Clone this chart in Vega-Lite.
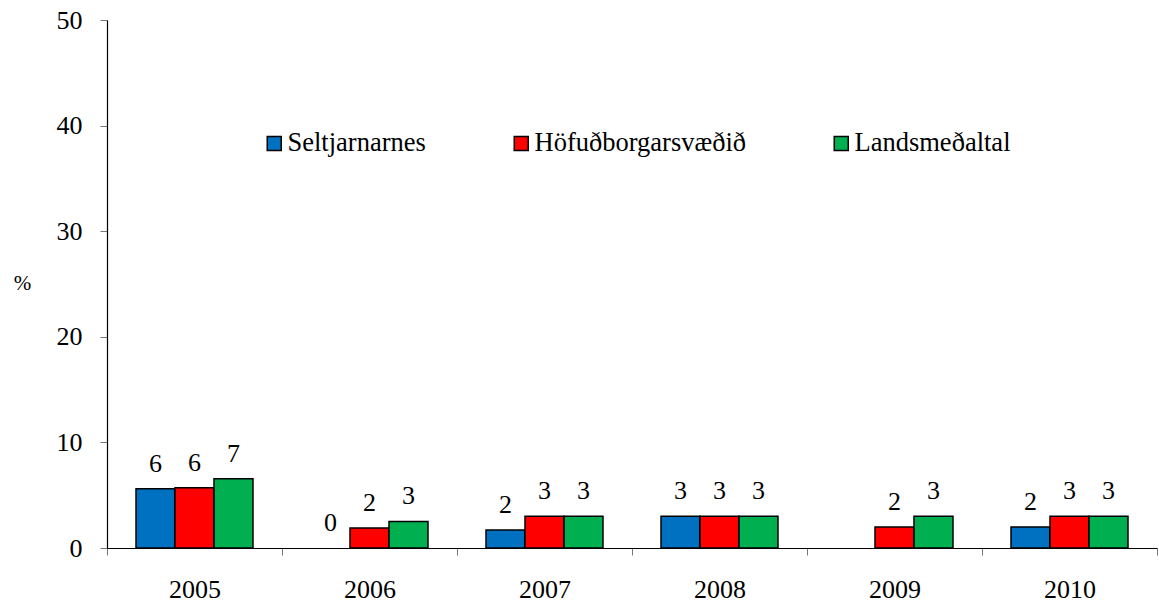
{
  "$schema": "https://vega.github.io/schema/vega-lite/v6.json",
  "width": 1050,
  "height": 528,
  "autosize": "none",
  "padding": {"left": 107, "top": 20, "right": 2, "bottom": 54},
  "background": "white",
  "config": {
    "font": "Liberation Serif",
    "view": {"stroke": null}
  },
  "data": {
    "values": [
      {"year": "2005", "region": "Seltjarnarnes", "value": 5.6},
      {"year": "2005", "region": "Höfuðborgarsvæðið", "value": 5.7},
      {"year": "2005", "region": "Landsmeðaltal", "value": 6.55},
      {"year": "2006", "region": "Seltjarnarnes", "value": 0},
      {"year": "2006", "region": "Höfuðborgarsvæðið", "value": 1.9},
      {"year": "2006", "region": "Landsmeðaltal", "value": 2.52},
      {"year": "2007", "region": "Seltjarnarnes", "value": 1.7},
      {"year": "2007", "region": "Höfuðborgarsvæðið", "value": 3.0},
      {"year": "2007", "region": "Landsmeðaltal", "value": 3.0},
      {"year": "2008", "region": "Seltjarnarnes", "value": 3.0},
      {"year": "2008", "region": "Höfuðborgarsvæðið", "value": 3.0},
      {"year": "2008", "region": "Landsmeðaltal", "value": 3.0},
      {"year": "2009", "region": "Höfuðborgarsvæðið", "value": 2.0},
      {"year": "2009", "region": "Landsmeðaltal", "value": 3.0},
      {"year": "2010", "region": "Seltjarnarnes", "value": 2.0},
      {"year": "2010", "region": "Höfuðborgarsvæðið", "value": 3.0},
      {"year": "2010", "region": "Landsmeðaltal", "value": 3.0}
    ]
  },
  "encoding": {
    "x": {
      "field": "year",
      "type": "nominal",
      "scale": {"paddingInner": 0, "paddingOuter": 0},
      "axis": {
        "title": null,
        "labelFont": "Liberation Serif",
        "labelAngle": 0,
        "labelFontSize": 26,
        "labelColor": "black",
        "labelPadding": 21,
        "tickBand": "extent",
        "tickSize": 7,
        "tickColor": "#777777",
        "domainColor": "black",
        "domainWidth": 1.2,
        "grid": false
      }
    },
    "xOffset": {
      "field": "region",
      "type": "nominal",
      "sort": ["Seltjarnarnes", "Höfuðborgarsvæðið", "Landsmeðaltal"],
      "scale": {"paddingInner": 0, "paddingOuter": 0.744}
    },
    "y": {
      "field": "value",
      "type": "quantitative",
      "scale": {"domain": [0, 50], "nice": false},
      "axis": {
        "values": [0, 10, 20, 30, 40, 50],
        "title": "%",
        "titleFont": "Liberation Serif",
        "labelFont": "Liberation Serif",
        "titleAngle": 0,
        "titleFontSize": 21,
        "titleFontWeight": "normal",
        "titleColor": "black",
        "titleX": -85,
        "titleY": 263,
        "titleAlign": "center",
        "titleBaseline": "middle",
        "labelFontSize": 26,
        "labelColor": "black",
        "labelPadding": 18,
        "tickSize": 7,
        "tickColor": "#777777",
        "domainColor": "black",
        "domainWidth": 1.2,
        "grid": false
      }
    }
  },
  "layer": [
    {
      "transform": [{"filter": "datum.value > 0"}],
      "mark": {"type": "bar", "stroke": "black", "strokeWidth": 1.5},
      "encoding": {
        "color": {
          "field": "region",
          "type": "nominal",
          "sort": ["Seltjarnarnes", "Höfuðborgarsvæðið", "Landsmeðaltal"],
          "scale": {
            "domain": ["Seltjarnarnes", "Höfuðborgarsvæðið", "Landsmeðaltal"],
            "range": ["#0070C0", "#FF0000", "#00B050"]
          },
          "legend": {
            "title": null,
            "orient": "none",
            "direction": "horizontal",
            "legendX": 154,
            "legendY": 110,
            "padding": 0,
            "columnPadding": 82,
            "symbolType": "square",
            "symbolSize": 196,
            "symbolStrokeColor": "black",
            "symbolStrokeWidth": 1.5,
            "labelFont": "Liberation Serif",
            "labelFontSize": 26.5,
            "labelColor": "black",
            "labelOffset": 0,
            "labelLimit": 400
          }
        }
      }
    },
    {
      "mark": {"type": "text", "font": "Liberation Serif", "baseline": "middle", "dy": -25, "fontSize": 26, "color": "black"},
      "encoding": {
        "text": {"field": "value", "type": "quantitative", "format": ".0f"}
      }
    }
  ]
}
